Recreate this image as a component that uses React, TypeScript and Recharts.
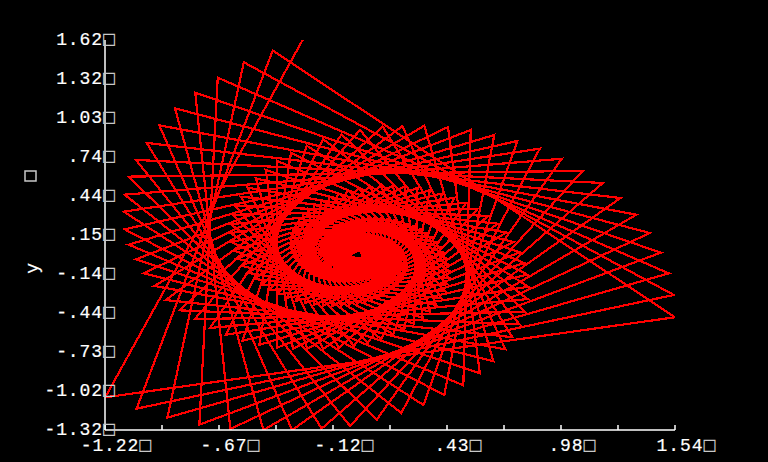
import React from "react";
import { LineChart, Line, XAxis, YAxis } from "recharts";

// Three arms of vertices, the line visits them in turn (top, bottom, right).
// Outer vertices are read off the picture, the ones near the centre are
// estimates because that area is solid red.
const topArmX = [
  -0.263, -0.408, -0.548, -0.674, -0.783, -0.881, -0.957, -1.018, -1.07, -1.105, -1.125, -1.129, -1.125, -1.105, -1.07, -1.033, -0.981, -0.926, -0.86, -0.786, -0.711, -0.635, -0.555, -0.473, -0.388, -0.31,
  -0.241, -0.163, -0.087, -0.015, 0.053, 0.117, 0.176, 0.229, 0.277, 0.318, 0.354, 0.384, 0.408, 0.426, 0.439, 0.445, 0.447, 0.443, 0.435, 0.423, 0.406, 0.386, 0.363, 0.338, 0.31, 0.28, 0.249, 0.218, 0.185, 0.153, 0.12, 0.089, 0.058, 0.028,
  0, -0.027, -0.052, -0.075, -0.095, -0.114, -0.13, -0.143, -0.155, -0.164, -0.17, -0.175, -0.177, -0.177, -0.175, -0.172, -0.166, -0.159, -0.151, -0.142, -0.132, -0.12, -0.108, -0.096, -0.083, -0.07, -0.058, -0.045, -0.032, -0.02, -0.009, 0.003, 0.013, 0.023, 0.031, 0.039, 0.046, 0.052, 0.058, 0.062, 0.065,
  0.068, 0.069, 0.07, 0.07, 0.069, 0.067, 0.065, 0.062, 0.059, 0.055, 0.051, 0.046, 0.042, 0.037, 0.032, 0.027, 0.022, 0.017,
];
const topArmY = [
  1.62, 1.54, 1.452, 1.336, 1.223, 1.105, 0.977, 0.844, 0.716, 0.59, 0.454, 0.326, 0.193, 0.077, -0.033, -0.139, -0.234, -0.34, -0.418, -0.485, -0.551, -0.602, -0.647, -0.679, -0.7, -0.707,
  -0.709, -0.709, -0.7, -0.685, -0.662, -0.634, -0.6, -0.562, -0.52, -0.475, -0.427, -0.377, -0.326, -0.274, -0.222, -0.171, -0.121, -0.073, -0.027, 0.017, 0.059, 0.097, 0.132, 0.163, 0.191, 0.215, 0.235, 0.252, 0.264, 0.273, 0.279, 0.281, 0.28, 0.276,
  0.269, 0.26, 0.248, 0.235, 0.219, 0.202, 0.184, 0.165, 0.145, 0.125, 0.104, 0.084, 0.063, 0.044, 0.025, 0.007, -0.011, -0.027, -0.042, -0.055, -0.067, -0.078, -0.087, -0.095, -0.101, -0.106, -0.109, -0.111, -0.111, -0.111, -0.109, -0.106, -0.102, -0.097, -0.092, -0.085, -0.078, -0.071, -0.063, -0.055, -0.047,
  -0.039, -0.031, -0.023, -0.016, -0.008, -0.001, 0.006, 0.012, 0.018, 0.023, 0.028, 0.032, 0.035, 0.038, 0.04, 0.042, 0.043, 0.044,
];
const bottomArmX = [
  -1.219, -1.067, -0.918, -0.763, -0.613, -0.453, -0.314, -0.171, -0.033, 0.096, 0.215, 0.322, 0.423, 0.515, 0.595, 0.661, 0.719, 0.752,
  0.787, 0.812, 0.826, 0.83, 0.825, 0.811, 0.789, 0.76, 0.724, 0.682, 0.635, 0.584, 0.529, 0.472, 0.413, 0.353, 0.293, 0.232, 0.173, 0.116, 0.06, 0.007, -0.043, -0.089, -0.132, -0.171, -0.206, -0.236, -0.263, -0.284, -0.301, -0.314, -0.323, -0.328, -0.329, -0.326, -0.32, -0.31, -0.298, -0.283, -0.266, -0.247,
  -0.226, -0.205, -0.182, -0.158, -0.134, -0.11, -0.087, -0.063, -0.041, -0.019, 0.002, 0.022, 0.04, 0.056, 0.071, 0.085, 0.096, 0.106, 0.115, 0.121, 0.126, 0.129, 0.13, 0.13, 0.129, 0.126, 0.122, 0.117, 0.111, 0.104, 0.096, 0.088, 0.079, 0.07, 0.061, 0.051, 0.042, 0.032, 0.023, 0.014, 0.005,
  -0.003, -0.01, -0.017, -0.024, -0.03, -0.035, -0.039, -0.043, -0.046, -0.049, -0.05, -0.051, -0.052, -0.052, -0.051, -0.05, -0.048, -0.046,
];
const bottomArmY = [
  -1.074, -1.159, -1.227, -1.28, -1.312, -1.32, -1.32, -1.31, -1.29, -1.242, -1.192, -1.132, -1.056, -0.983, -0.893, -0.802, -0.712, -0.62,
  -0.524, -0.428, -0.333, -0.24, -0.149, -0.062, 0.02, 0.097, 0.169, 0.235, 0.294, 0.347, 0.393, 0.431, 0.463, 0.488, 0.506, 0.517, 0.522, 0.521, 0.515, 0.503, 0.486, 0.465, 0.44, 0.411, 0.38, 0.347, 0.311, 0.274, 0.237, 0.199, 0.161, 0.123, 0.087, 0.051, 0.017, -0.015, -0.045, -0.073, -0.099, -0.122,
  -0.142, -0.159, -0.174, -0.186, -0.195, -0.202, -0.206, -0.207, -0.206, -0.203, -0.198, -0.191, -0.182, -0.172, -0.16, -0.148, -0.134, -0.12, -0.105, -0.09, -0.075, -0.06, -0.045, -0.031, -0.017, -0.004, 0.009, 0.021, 0.032, 0.041, 0.05, 0.058, 0.065, 0.07, 0.075, 0.078, 0.08, 0.082, 0.082, 0.082, 0.08,
  0.078, 0.075, 0.071, 0.067, 0.062, 0.057, 0.052, 0.046, 0.04, 0.034, 0.028, 0.022, 0.016, 0.011, 0.005, 0, -0.005, -0.009,
];
const rightArmX = [
  1.54, 1.534, 1.51, 1.471, 1.418, 1.353, 1.276, 1.19, 1.093, 0.992, 0.885, 0.777, 0.665, 0.551, 0.441, 0.326, 0.22, 0.125, 0.015, -0.074, -0.163, -0.243, -0.319, -0.386, -0.442, -0.49, -0.529, -0.563, -0.59,
  -0.602, -0.611, -0.612, -0.607, -0.596, -0.579, -0.556, -0.528, -0.497, -0.462, -0.423, -0.383, -0.34, -0.296, -0.252, -0.207, -0.163, -0.119, -0.077, -0.037, 0.002, 0.039, 0.073, 0.104, 0.132, 0.157, 0.179, 0.197, 0.213, 0.225, 0.234,
  0.24, 0.242, 0.243, 0.24, 0.235, 0.228, 0.218, 0.207, 0.194, 0.18, 0.164, 0.148, 0.131, 0.113, 0.096, 0.078, 0.061, 0.043, 0.027, 0.011, -0.004, -0.019, -0.032, -0.044, -0.055, -0.064, -0.073, -0.08, -0.086, -0.09, -0.094, -0.096, -0.097, -0.096, -0.095, -0.093, -0.09, -0.086, -0.081, -0.076, -0.07,
  -0.064, -0.057, -0.05, -0.044, -0.037, -0.029, -0.023, -0.016, -0.009, -0.003, 0.003, 0.009, 0.014, 0.019, 0.023, 0.027, 0.03, 0.032,
];
const rightArmY = [
  -0.47, -0.302, -0.139, 0.017, 0.165, 0.303, 0.429, 0.542, 0.633, 0.725, 0.801, 0.859, 0.904, 0.942, 0.964, 0.974, 0.97, 0.967, 0.942, 0.909, 0.872, 0.823, 0.771, 0.708, 0.64, 0.578, 0.507, 0.439, 0.37,
  0.302, 0.232, 0.164, 0.097, 0.034, -0.026, -0.083, -0.135, -0.182, -0.225, -0.263, -0.296, -0.323, -0.346, -0.363, -0.375, -0.383, -0.386, -0.384, -0.378, -0.369, -0.356, -0.34, -0.321, -0.299, -0.276, -0.251, -0.224, -0.197, -0.169, -0.141,
  -0.113, -0.086, -0.059, -0.033, -0.008, 0.016, 0.038, 0.058, 0.076, 0.093, 0.108, 0.12, 0.13, 0.139, 0.145, 0.15, 0.152, 0.153, 0.152, 0.149, 0.145, 0.14, 0.133, 0.125, 0.117, 0.107, 0.097, 0.087, 0.076, 0.065, 0.054, 0.042, 0.031, 0.021, 0.011, 0.001, -0.008, -0.017, -0.025, -0.032, -0.038,
  -0.044, -0.049, -0.053, -0.056, -0.058, -0.06, -0.061, -0.061, -0.06, -0.059, -0.057, -0.055, -0.052, -0.049, -0.046, -0.042, -0.038, -0.034,
];

const xTicks = [-1.22, -0.944, -0.668, -0.392, -0.116, 0.16, 0.436, 0.712, 0.988, 1.264, 1.54];
const xTickLabels = ["-1.22", "", "-.67", "", "-.12", "", ".43", "", ".98", "", "1.54"];
const yTicks = [-1.32, -1.026, -0.732, -0.438, -0.144, 0.15, 0.444, 0.738, 1.032, 1.326, 1.62];
const yTickLabels = ["-1.32", "-1.02", "-.73", "-.44", "-.14", ".15", ".44", ".74", "1.03", "1.32", "1.62"];

const data = topArmX.flatMap((_, i) => [
  { x: topArmX[i], y: topArmY[i] },
  { x: bottomArmX[i], y: bottomArmY[i] },
  { x: rightArmX[i], y: rightArmY[i] },
]);

const tickFont = {
  fontFamily: "Liberation Mono",
  fontSize: 18,
  letterSpacing: 0.9,
  stroke: "#fff",
  strokeWidth: 0.2,
};

const Box = () => (
  <tspan fill="#c8c8c8" stroke="none" fontFamily="DejaVu Sans Mono" fontSize={20} letterSpacing={0}>
    □
  </tspan>
);

const XTick = ({ x, y, index }: any) => (
  <g>
    <line x1={x} x2={x} y1={y} y2={y - 5} stroke="#fff" strokeWidth={1.5} />
    {xTickLabels[index] && (
      <text x={x + 11} y={y + 21} fill="#fff" textAnchor="middle" {...tickFont}>
        {xTickLabels[index]}
        <Box />
      </text>
    )}
  </g>
);

const YTick = ({ x, y, index }: any) => (
  <text x={x + 10} y={y + 5} fill="#fff" textAnchor="end" {...tickFont}>
    {yTickLabels[index]}
    <Box />
  </text>
);

const YTitle = () => (
  <g>
    <text x={38} y={268} fill="#fff" textAnchor="middle" transform="rotate(-90 38 268)" {...tickFont}>
      y
    </text>
    <rect x={25} y={171} width={11} height={10} fill="none" stroke="#c8c8c8" strokeWidth={1.5} />
  </g>
);

const XTitle = () => (
  <text x={451} y={474} fill="#c8c8c8" textAnchor="middle" fontFamily="DejaVu Sans Mono" fontSize={20}>
    □
  </text>
);

export default function App() {
  return (
    <div
      style={{
        position: "absolute",
        left: 0,
        top: 0,
        width: 768,
        height: 462,
        background: "#000",
        overflow: "hidden",
      }}
    >
      <LineChart
        width={768}
        height={462}
        data={data}
        margin={{ top: 40, right: 93, bottom: 0, left: 45 }}
      >
        <XAxis
          type="number"
          dataKey="x"
          domain={[-1.22, 1.54]}
          ticks={xTicks}
          interval={0}
          allowDataOverflow
          height={32}
          stroke="#fff"
          strokeWidth={1.5}
          tickLine={false}
          tickSize={0}
          tickMargin={0}
          tick={<XTick />}
          label={<XTitle />}
        />
        <YAxis
          type="number"
          dataKey="y"
          domain={[-1.32, 1.62]}
          ticks={yTicks}
          interval={0}
          allowDataOverflow
          width={60}
          stroke="#fff"
          strokeWidth={1.5}
          tickLine={false}
          tickSize={0}
          tickMargin={0}
          tick={<YTick />}
          label={<YTitle />}
        />
        <Line
          type="linear"
          dataKey="y"
          stroke="#ff0000"
          strokeWidth={2.2}
          shapeRendering="crispEdges"
          dot={false}
          isAnimationActive={false}
        />
      </LineChart>
    </div>
  );
}
